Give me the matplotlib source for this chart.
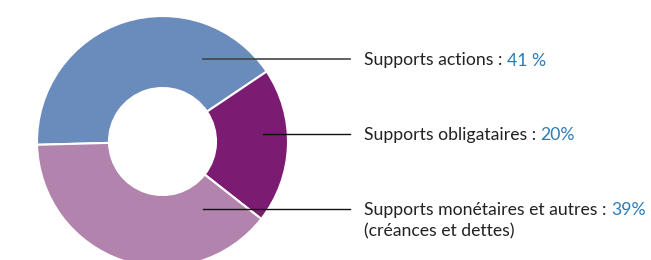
import matplotlib.pyplot as plt
plt.switch_backend('agg')

labels = ['Supports actions : ', 'Supports obligataires : ', 'Supports monétaires et autres : ']
values = [41, 20, 39]
pct_labels = ['41 %', '20%', '39%']
extra = ['', '', '(créances et dettes)']
colors = ['#6a8cbd', '#7b1c72', '#b283ad']

plt.rcParams['font.family'] = ['Lato', 'DejaVu Sans']

fig = plt.figure(figsize=(6.51, 2.60), dpi=100)
# axes in pixel coords: center (162.5, 141.5), radius 125.5
R = 125.5
ax = fig.add_axes([(162.5 - R) / 651, (260 - 141.5 - R) / 260, 2 * R / 651, 2 * R / 260])

wedges, _ = ax.pie(values, colors=colors, startangle=181.5, counterclock=False,
                   radius=1, wedgeprops=dict(width=1 - 53.5 / R, edgecolor='white', linewidth=1.5))
ax.set_xlim(-1, 1)
ax.set_ylim(-1, 1)
ax.axis('off')

# leader lines and labels (pixel positions converted to figure fractions)
line_y = [59, 133.5, 208.5]
line_x0 = [203, 263, 203]
line_col = ['#444444', '#111111', '#111111']
text_x = 364
for i, lab in enumerate(labels):
    y = 1 - line_y[i] / 260
    fig.add_artist(plt.Line2D([line_x0[i] / 651, 350 / 651], [y, y],
                              color=line_col[i], lw=1.2 if i == 0 else 1.0))
    t = fig.text(text_x / 651, y, lab, fontsize=12.7, color='#222222',
                 va='center_baseline', ha='left')
    fig.canvas.draw()
    bb = t.get_window_extent()
    fig.text(bb.x1 / 651, y, pct_labels[i], fontsize=12.7, color='#2b7bba',
             va='center_baseline', ha='left')
    if extra[i]:
        fig.text(text_x / 651, y - 21 / 260, extra[i], fontsize=12.7, color='#222222',
                 va='center_baseline', ha='left')

fig.savefig('out.png', dpi=100)
